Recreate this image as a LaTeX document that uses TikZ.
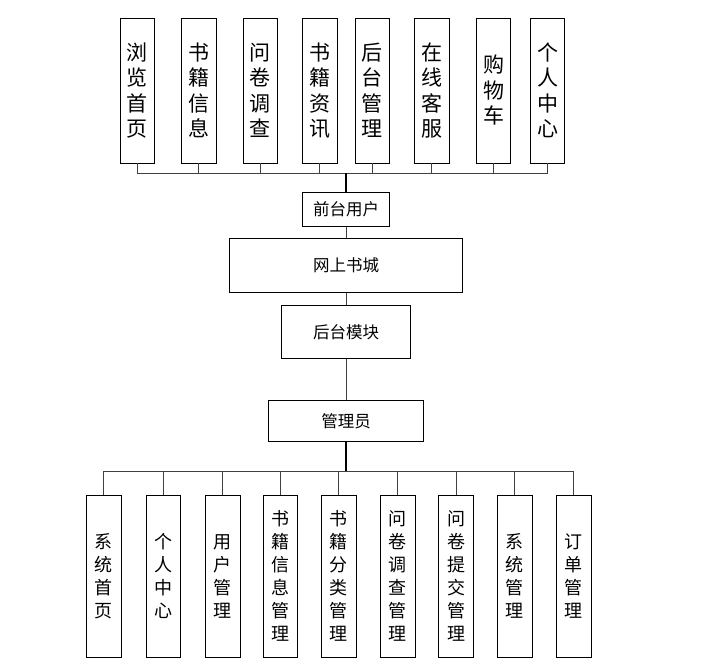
\documentclass[tikz,border=0pt]{standalone}
\usepackage{fontspec}
\newfontfamily\cjk{Noto Sans CJK SC}
\usetikzlibrary{positioning}
\tikzset{
    topbox/.style={rectangle, draw=black, line width=0.9pt, fill=white, minimum width=34.5pt, minimum height=145pt, inner sep=0pt, align=center, font=\cjk\fontsize{21}{25.5}\selectfont},
    lowbox/.style={rectangle, draw=black, line width=0.9pt, fill=white, minimum width=34.5pt, minimum height=162pt, inner sep=0pt, align=center, font=\cjk\fontsize{18}{23}\selectfont},
    midbox/.style={rectangle, draw=black, line width=0.9pt, fill=white, inner sep=0pt, font=\cjk\fontsize{16.5}{20}\selectfont},
    link/.style={draw=black!75, line width=0.8pt},
    trunk/.style={draw=black, line width=1.3pt}
}
\begin{document}
\begin{tikzpicture}[x=1pt, y=-1pt]
    \useasboundingbox (0,0) rectangle (710,669);

    % front-end modules
    \node (t1) [topbox] at (137.3,90.5) {浏\\览\\首\\页};
    \node (t2) [topbox] at (198.8,90.5) {书\\籍\\信\\息};
    \node (t3) [topbox] at (260.3,90.5) {问\\卷\\调\\查};
    \node (t4) [topbox] at (319.8,90.5) {书\\籍\\资\\讯};
    \node (t5) [topbox] at (372.2,90.5) {后\\台\\管\\理};
    \node (t6) [topbox] at (431.8,90.5) {在\\线\\客\\服};
    \node (t7) [topbox] at (493.5,90.5) {购\\物\\车};
    \node (t8) [topbox] at (547.5,90.5) {个\\人\\中\\心};

    % main stack
    \node (user) [midbox, minimum width=86.6pt, minimum height=34.4pt] at (346,209.5) {前台用户};
    \node (shop) [midbox, minimum width=233.4pt, minimum height=53.6pt] at (346,265.5) {网上书城};
    \node (back) [midbox, minimum width=129.4pt, minimum height=53.7pt] at (346,332) {后台模块};
    \node (admin) [midbox, minimum width=154.6pt, minimum height=41pt] at (346,421) {管理员};

    % back-end modules
    \node (b1) [lowbox] at (103.8,576) {系\\统\\首\\页};
    \node (b2) [lowbox] at (163.3,576) {个\\人\\中\\心};
    \node (b3) [lowbox] at (222.8,576) {用\\户\\管\\理};
    \node (b4) [lowbox] at (280.5,576) {书\\籍\\信\\息\\管\\理};
    \node (b5) [lowbox] at (338.8,576) {书\\籍\\分\\类\\管\\理};
    \node (b6) [lowbox] at (397.7,576) {问\\卷\\调\\查\\管\\理};
    \node (b7) [lowbox] at (456,576) {问\\卷\\提\\交\\管\\理};
    \node (b8) [lowbox] at (514.8,576) {系\\统\\管\\理};
    \node (b9) [lowbox] at (573.7,576) {订\\单\\管\\理};

    \coordinate (tjoin) at (346,173.3);
    \coordinate (bjoin) at (346,471);

    \foreach \i in {1,...,8}
        \draw [link] (t\i.south) |- (tjoin);
    \foreach \i in {1,...,9}
        \draw [link] (b\i.north) |- (bjoin);

    \draw [trunk] (tjoin) -- (user);
    \draw [link] (user) -- (shop);
    \draw [link] (shop) -- (back);
    \draw [link] (back) -- (admin);
    \draw [trunk] (admin) -- (bjoin);
\end{tikzpicture}
\end{document}
